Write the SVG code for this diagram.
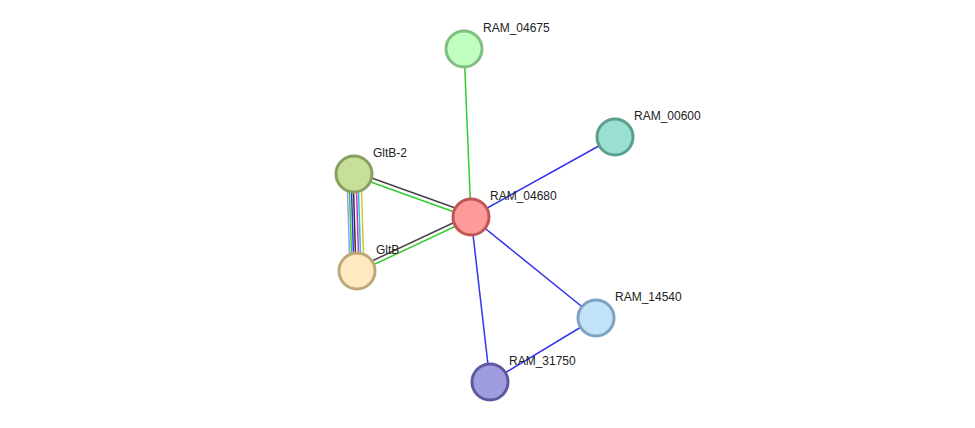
<svg xmlns="http://www.w3.org/2000/svg" width="975" height="428" viewBox="0 0 975 428">
<style>
.n{stroke-width:3}
text{font-family:"Liberation Sans",Arial,sans-serif;font-size:12px;fill:#222}
line{stroke-width:1.5}
</style>
<rect width="975" height="428" fill="#fff"/>
<g id="connectors">
<line x1="464" y1="49" x2="471" y2="217" stroke="#33cc33"/>
<line x1="615" y1="137" x2="471" y2="217" stroke="#3333ee"/>
<line x1="596" y1="318" x2="471" y2="217" stroke="#3333ee"/>
<line x1="490" y1="382" x2="471" y2="217" stroke="#3333ee"/>
<line x1="596" y1="318" x2="490" y2="382" stroke="#3333ee"/>
<line x1="355" y1="172" x2="472" y2="214" stroke="#444"/>
<line x1="354" y1="176" x2="471" y2="218" stroke="#33cc33"/>
<line x1="357" y1="268" x2="470" y2="215" stroke="#444"/>
<line x1="358" y1="272" x2="471" y2="219" stroke="#33cc33"/>
<line x1="347" y1="174" x2="350" y2="271" stroke="#9999ff" stroke-width="1"/>
<line x1="349" y1="174" x2="352" y2="271" stroke="#33cc33" stroke-width="1"/>
<line x1="351" y1="174" x2="354" y2="271" stroke="#3333ee" stroke-width="1"/>
<line x1="353" y1="174" x2="356" y2="271" stroke="#333" stroke-width="1"/>
<line x1="356" y1="174" x2="359" y2="271" stroke="#cc33cc" stroke-width="1"/>
<line x1="358" y1="174" x2="361" y2="271" stroke="#33bbdd" stroke-width="1"/>
<line x1="361" y1="174" x2="364" y2="271" stroke="#cccc33" stroke-width="1"/>
</g>
<g id="RAM_04675"><circle class="n" cx="464" cy="49" r="18" fill="#c1ffc1" stroke="#7fbf7f"/><text x="483" y="32">RAM_04675</text></g>
<g id="RAM_00600"><circle class="n" cx="615" cy="137" r="18" fill="#9ae0d0" stroke="#5a9e8e"/><text x="634" y="120">RAM_00600</text></g>
<g id="GltB-2"><circle class="n" cx="354" cy="174" r="18" fill="#c7df98" stroke="#87a060"/><text x="373" y="157">GltB-2</text></g>
<g id="RAM_04680"><circle class="n" cx="471" cy="217" r="18" fill="#ff9a9a" stroke="#c05555"/><text x="490" y="200">RAM_04680</text></g>
<g id="GltB"><circle class="n" cx="357" cy="271" r="18" fill="#ffe9c0" stroke="#bfa878"/><text x="376" y="254">GltB</text></g>
<g id="RAM_14540"><circle class="n" cx="596" cy="318" r="18" fill="#c2e2fa" stroke="#7fa2c2"/><text x="615" y="301">RAM_14540</text></g>
<g id="RAM_31750"><circle class="n" cx="490" cy="382" r="18" fill="#a09ddf" stroke="#5f5aa0"/><text x="509" y="365">RAM_31750</text></g>
</svg>
